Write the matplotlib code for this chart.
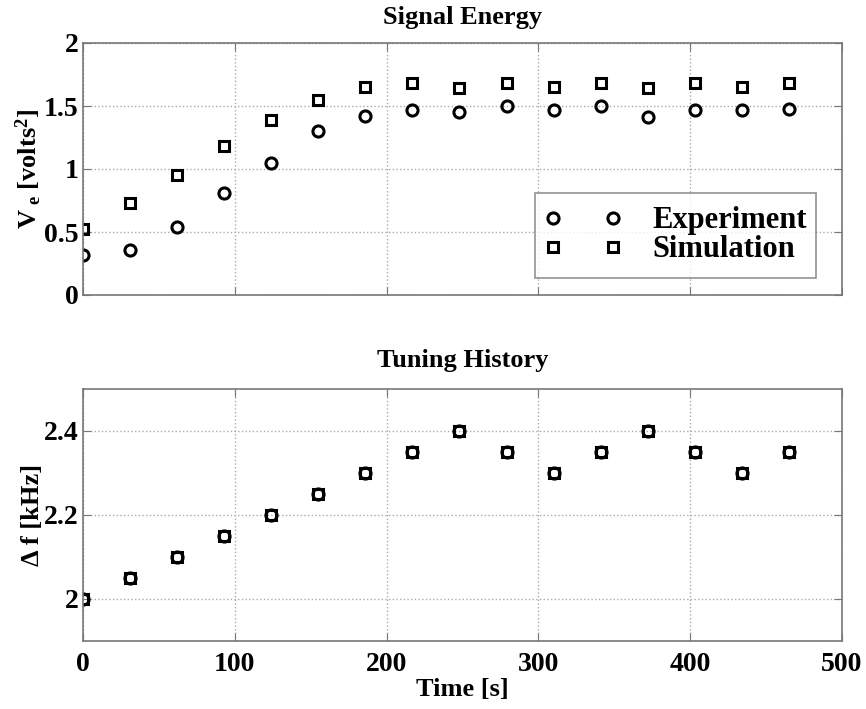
import numpy as np
import matplotlib
matplotlib.use("Agg")
import matplotlib.pyplot as plt

plt.rcParams['font.family'] = ['Liberation Serif', 'DejaVu Serif']
plt.rcParams['font.weight'] = 'bold'
plt.rcParams['axes.labelweight'] = 'bold'
plt.rcParams['axes.titleweight'] = 'bold'
plt.rcParams['mathtext.fontset'] = 'custom'
plt.rcParams['mathtext.rm'] = 'Liberation Serif:bold'
plt.rcParams['mathtext.it'] = 'Liberation Serif:bold'
plt.rcParams['mathtext.bf'] = 'Liberation Serif:bold'
plt.rcParams['mathtext.default'] = 'rm'

time_s = [0, 31, 62, 93, 124, 155, 186, 217, 248, 279, 310, 341, 372, 403, 434, 465]
energy_exp = [0.32, 0.36, 0.54, 0.81, 1.05, 1.30, 1.42, 1.47, 1.45, 1.50, 1.47, 1.50, 1.41, 1.47, 1.47, 1.48]
energy_sim = [0.52, 0.73, 0.95, 1.18, 1.39, 1.55, 1.65, 1.68, 1.64, 1.68, 1.65, 1.68, 1.64, 1.68, 1.65, 1.68]
tuning_exp = [2.00, 2.05, 2.10, 2.15, 2.20, 2.25, 2.30, 2.35, 2.40, 2.35, 2.30, 2.35, 2.40, 2.35, 2.30, 2.35]
tuning_sim = [2.00, 2.05, 2.10, 2.15, 2.20, 2.25, 2.30, 2.35, 2.40, 2.35, 2.30, 2.35, 2.40, 2.35, 2.30, 2.35]

fig = plt.figure(figsize=(8.66, 7.09), dpi=100)
ax1 = fig.add_axes([83/866, 1 - 295/709, 759/866, 252/709])
ax2 = fig.add_axes([83/866, 1 - 641/709, 759/866, 252/709])

mk = dict(linestyle='none', color='black', mfc='none', mew=2.2)

def style(ax):
    ax.set_xlim(0, 500)
    ax.grid(True, linestyle=':', color='#aaaaaa', linewidth=1)
    ax.tick_params(direction='in', top=True, right=True, length=6,
                   color='#777777', labelsize=20, pad=8)
    ax.tick_params(axis='y', pad=3)
    for s in ax.spines.values():
        s.set_color('#777777')
        s.set_linewidth(1.2)
    ax.set_xticks([0, 100, 200, 300, 400, 500])

ax1.plot(time_s, energy_exp, marker='o', markersize=8, label='Experiment', **mk)
ax1.plot(time_s, energy_sim, marker='s', markersize=7, label='Simulation', **mk)
style(ax1)
ax1.set_ylim(0, 2)
ax1.set_yticks([0, 0.5, 1, 1.5, 2])
ax1.set_yticklabels(['0', '0.5', '1', '1.5', '2'])
ax1.set_xticklabels([])
ax1.set_title('Signal Energy', fontsize=19, pad=14)
ax1.set_ylabel(r'V$_{\ e}$ [volts$^2$]', fontsize=19, labelpad=0)
leg = ax1.legend(loc='lower right', bbox_to_anchor=(0.9644, 0.0913), borderaxespad=0,
                 numpoints=2, handlelength=2.56, fontsize=22, frameon=True, fancybox=False,
                 borderpad=0.25, labelspacing=0.0, handletextpad=1.0)
frame = leg.get_frame()
frame.set_edgecolor('#777777')
frame.set_linewidth(1.2)
# extra vertical room inside the box, almost none sideways
frame.set_boxstyle('square', pad=0.03)
frame.set_mutation_aspect(6.7)

ax2.plot(time_s, tuning_exp, marker='o', markersize=8, **mk)
ax2.plot(time_s, tuning_sim, marker='s', markersize=7, **mk)
style(ax2)
ax2.set_ylim(1.9, 2.5)
ax2.set_yticks([2, 2.2, 2.4])
ax2.set_yticklabels(['2', '2.2', '2.4'])
ax2.set_title('Tuning History', fontsize=19, pad=16)
ax2.set_ylabel('Δ f [kHz]', fontsize=19, labelpad=0)
ax2.set_xlabel('Time [s]', fontsize=19, labelpad=0.5)

fig.savefig('out.png', dpi=100)
